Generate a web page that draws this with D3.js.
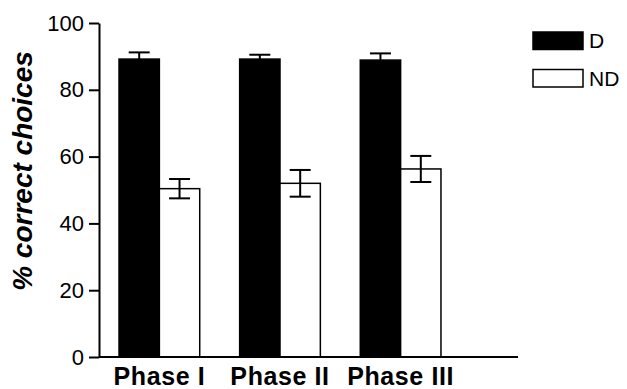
<!DOCTYPE html>
<html>
<head>
<meta charset="utf-8">
<script src="https://cdn.jsdelivr.net/npm/d3@7/dist/d3.min.js"></script>
<style>
  html, body { margin: 0; padding: 0; background: #fff; }
  svg { display: block; font-family: "Liberation Sans", Arial, Helvetica, sans-serif; }
</style>
</head>
<body>
<svg id="chart" width="627" height="389"></svg>
<script>
// Phases along the x axis
const phases = ["Phase I", "Phase II", "Phase III"];
// Series: discriminative (D) and non-discriminative (ND) choices
const seriesNames = ["D", "ND"];
const dMeans = [89.2, 89.2, 88.9];
const dErrors = [2.0, 1.3, 2.0];
const ndMeans = [50.4, 52.0, 56.3];
const ndErrors = [2.9, 4.0, 3.9];
const yTicks = [0, 20, 40, 60, 80, 100];
const seriesFill = { D: "#000", ND: "#fff" };

const svg = d3.select("#chart");

const y = d3.scaleLinear().domain([0, 100]).range([357, 23]);
const x0 = d3.scaleBand().domain(phases).range([99, 461])
  .paddingInner(0.331).paddingOuter(0.166);
const x1 = d3.scaleBand().domain(seriesNames).range([0, x0.bandwidth()]);

const rows = [];
phases.forEach((p, i) => {
  rows.push({ phase: p, series: "D", mean: dMeans[i], err: dErrors[i] });
  rows.push({ phase: p, series: "ND", mean: ndMeans[i], err: ndErrors[i] });
});

// Bars
svg.append("g").selectAll("rect").data(rows).join("rect")
  .attr("x", d => x0(d.phase) + x1(d.series))
  .attr("y", d => y(d.mean))
  .attr("width", x1.bandwidth())
  .attr("height", d => y(0) - y(d.mean))
  .attr("fill", d => seriesFill[d.series])
  .attr("stroke", "#000")
  .attr("stroke-width", 1.5);

// Error bars
const capHalf = 10.5;
const eb = svg.append("g").attr("stroke", "#000").attr("stroke-width", 2);
rows.forEach(d => {
  const cx = x0(d.phase) + x1(d.series) + x1.bandwidth() / 2;
  const top = y(d.mean + d.err), bot = y(d.mean - d.err);
  eb.append("line").attr("x1", cx).attr("x2", cx).attr("y1", top).attr("y2", bot);
  eb.append("line").attr("x1", cx - capHalf).attr("x2", cx + capHalf).attr("y1", top).attr("y2", top);
  if (d.series === "ND")
    eb.append("line").attr("x1", cx - capHalf).attr("x2", cx + capHalf).attr("y1", bot).attr("y2", bot);
});

// Y axis
const yAxis = svg.append("g").attr("transform", "translate(99,0)")
  .call(d3.axisLeft(y).tickValues(yTicks).tickSize(10).tickPadding(5).tickSizeOuter(0));
yAxis.select(".domain").attr("stroke-width", 2);
yAxis.selectAll(".tick line").attr("stroke-width", 2);
yAxis.selectAll(".tick text")
  .attr("font-size", 22).attr("fill", "#000")
  .attr("font-family", "'Liberation Sans', Arial, sans-serif");

// X axis
const xAxis = svg.append("g").attr("transform", "translate(0,357)")
  .call(d3.axisBottom(x0).tickSize(0).tickPadding(10));
xAxis.select(".domain").attr("d", "M99,0H518").attr("stroke-width", 2);
xAxis.selectAll(".tick text")
  .attr("font-size", 25).attr("font-weight", "bold").attr("fill", "#000")
  .attr("letter-spacing", 0.6)
  .attr("font-family", "'Liberation Sans', Arial, sans-serif");

// Y axis title
svg.append("text")
  .attr("transform", "translate(32,171) rotate(-90)")
  .attr("text-anchor", "middle")
  .attr("font-size", 28).attr("font-weight", "bold").attr("font-style", "italic")
  .text("% correct choices");

// Legend
const legend = svg.append("g");
seriesNames.forEach((s, i) => {
  const gy = 32 + i * 37.5;
  legend.append("rect").attr("x", 533).attr("y", gy).attr("width", 50).attr("height", 17.5)
    .attr("fill", seriesFill[s]).attr("stroke", "#000").attr("stroke-width", 1.5);
  legend.append("text").attr("x", 589).attr("y", gy + 16)
    .attr("font-size", 21).text(s);
});
</script>
</body>
</html>
